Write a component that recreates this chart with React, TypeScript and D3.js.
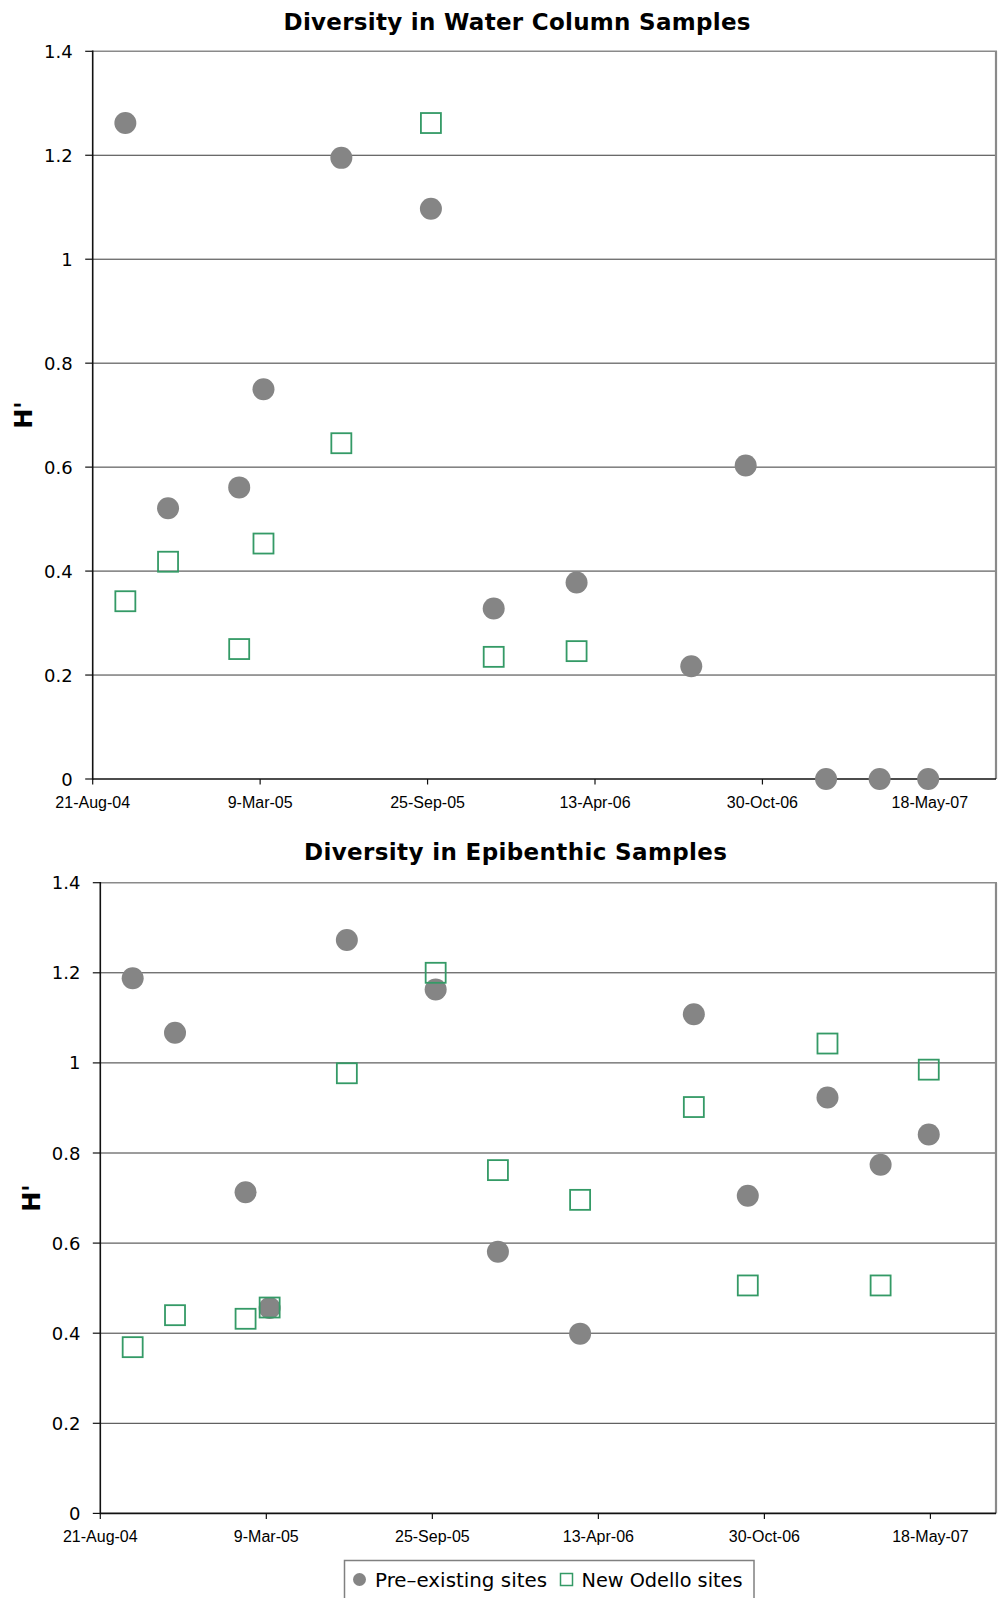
import React from "react";
import * as d3 from "d3";

// Sampling dates shared by both panels
const sampleDates = [
  "2004-09-29", "2004-11-19", "2005-02-12", "2005-03-13", "2005-06-14",
  "2005-09-29", "2005-12-13", "2006-03-22", "2006-08-06", "2006-10-10",
  "2007-01-14", "2007-03-19", "2007-05-16",
];

// Shannon diversity (H') per sampling date
const waterPre = [1.262, 0.521, 0.561, 0.750, 1.195, 1.097, 0.328, 0.378, 0.217, 0.603, 0, 0, 0];
const waterNew = [0.342, 0.418, 0.250, 0.453, 0.646, 1.262, 0.235, 0.246, null, null, null, null, null];
const epiPre = [1.188, 1.067, 0.713, 0.456, 1.273, 1.163, 0.581, 0.399, 1.108, 0.705, 0.923, 0.774, 0.841];
const epiNew = [0.369, 0.440, 0.432, 0.457, 0.977, 1.200, 0.762, 0.696, 0.902, 0.506, 1.043, 0.506, 0.985];

const seriesNames = ["Pre\u2013existing sites", "New Odello sites"];
const panelTitles = ["Diversity in Water Column Samples", "Diversity in Epibenthic Samples"];
const yAxisTitle = "H'";

const xDomainDates = ["2004-08-21", "2007-08-05"];
const xTickDates = ["2004-08-21", "2005-03-09", "2005-09-25", "2006-04-13", "2006-10-30", "2007-05-18"];
const xTickLabels = ["21-Aug-04", "9-Mar-05", "25-Sep-05", "13-Apr-06", "30-Oct-06", "18-May-07"];
const yTicks = [0, 0.2, 0.4, 0.6, 0.8, 1, 1.2, 1.4];
const yTickLabels = ["0", "0.2", "0.4", "0.6", "0.8", "1", "1.2", "1.4"];

const parse = d3.utcParse("%Y-%m-%d");

const GREY = "#858585";
const GREEN = "#349a66";
const NUM_FONT = "'DejaVu Sans', Verdana, sans-serif";
const DATE_FONT = "'Liberation Sans', Arial, sans-serif";

type PanelProps = {
  title: string;
  titleX: number;
  titleY: number;
  titleWidth: number;
  left: number;
  right: number;
  top: number;
  bottom: number;
  labelGap: number;
  axisTitleX: number;
  pre: (number | null)[];
  fresh: (number | null)[];
};

function Panel(p: PanelProps) {
  const x = d3
    .scaleUtc()
    .domain(xDomainDates.map((d) => parse(d) as Date))
    .range([p.left, p.right]);
  const y = d3.scaleLinear().domain([0, 1.4]).range([p.bottom, p.top]);
  const dates = sampleDates.map((d) => parse(d) as Date);
  const sq = 20;

  return (
    <g>
      <text
        x={p.titleX}
        y={p.titleY}
        textAnchor="middle"
        fontFamily={NUM_FONT}
        fontWeight="bold"
        fontSize={23}
        textLength={p.titleWidth}
        lengthAdjust="spacing"
        fill="#000"
      >
        {p.title}
      </text>

      {/* horizontal gridlines */}
      {yTicks.slice(1, -1).map((t) => (
        <line key={"g" + t} x1={p.left} x2={p.right} y1={y(t)} y2={y(t)} stroke="#3a3a3a" strokeWidth={1} />
      ))}
      {/* plot frame: top and right in grey */}
      <line x1={p.left} x2={p.right + 1} y1={y(1.4)} y2={y(1.4)} stroke="#8a8a8a" strokeWidth={1.6} />
      <line x1={p.right} x2={p.right} y1={y(1.4)} y2={y(0)} stroke="#8a8a8a" strokeWidth={2.2} />

      {/* y axis */}
      <line x1={p.left} x2={p.left} y1={y(1.4) - 0.8} y2={y(0) + 0.8} stroke="#111" strokeWidth={1.6} />
      {yTicks.map((t, i) => (
        <g key={"y" + t}>
          <line x1={p.left - 7.5} x2={p.left} y1={y(t)} y2={y(t)} stroke="#111" strokeWidth={1.2} />
          <text
            x={p.left - 7.5 - p.labelGap}
            y={y(t) + 6.5}
            textAnchor="end"
            fontFamily={NUM_FONT}
            fontSize={18}
            fill="#000"
          >
            {yTickLabels[i]}
          </text>
        </g>
      ))}

      {/* x axis */}
      <line x1={p.left} x2={p.right} y1={y(0)} y2={y(0)} stroke="#111" strokeWidth={1.6} />
      {xTickDates.map((d, i) => {
        const xx = x(parse(d) as Date);
        return (
          <g key={"x" + d}>
            <line x1={xx} x2={xx} y1={y(0)} y2={y(0) + 5.5} stroke="#111" strokeWidth={1.2} />
            <text
              x={xx}
              y={y(0) + 29}
              textAnchor="middle"
              fontFamily={DATE_FONT}
              fontSize={16}
              fill="#000"
            >
              {xTickLabels[i]}
            </text>
          </g>
        );
      })}

      <text
        transform={`translate(${p.axisTitleX},${(p.top + p.bottom) / 2}) rotate(-90)`}
        textAnchor="middle"
        fontFamily={NUM_FONT}
        fontWeight="bold"
        fontSize={24}
        fill="#000"
      >
        {yAxisTitle}
      </text>

      {/* pre-existing sites */}
      {p.pre.map((v, i) =>
        v == null ? null : <circle key={"c" + i} cx={x(dates[i])} cy={y(v)} r={11} fill={GREY} />
      )}
      {/* new Odello sites */}
      {p.fresh.map((v, i) =>
        v == null ? null : (
          <rect
            key={"s" + i}
            x={x(dates[i]) - sq / 2}
            y={y(v) - sq / 2}
            width={sq}
            height={sq}
            fill="none"
            stroke={GREEN}
            strokeWidth={1.8}
          />
        )
      )}
    </g>
  );
}

export default function App() {
  return (
    <svg
      width={1001}
      height={1598}
      viewBox="0 0 1001 1598"
      style={{ position: "absolute", left: 0, top: 0, display: "block", background: "#fff" }}
    >
      <rect x={0} y={0} width={1001} height={1598} fill="#fff" />
      <Panel
        title={panelTitles[0]}
        titleX={517}
        titleY={29.5}
        titleWidth={467}
        left={92.7}
        right={996}
        top={51.3}
        bottom={779}
        labelGap={12.6}
        axisTitleX={32}
        pre={waterPre}
        fresh={waterNew}
      />
      <Panel
        title={panelTitles[1]}
        titleX={515.5}
        titleY={860}
        titleWidth={423}
        left={100.3}
        right={996}
        top={882.7}
        bottom={1513.4}
        labelGap={12.3}
        axisTitleX={39.5}
        pre={epiPre}
        fresh={epiNew}
      />

      {/* legend */}
      <g>
        <rect x={344.5} y={1560.5} width={409.5} height={50} fill="#fff" stroke="#808080" strokeWidth={1.5} />
        <circle cx={359.5} cy={1579.5} r={6.5} fill={GREY} />
        <text
          x={375}
          y={1586.5}
          fontFamily={NUM_FONT}
          fontSize={19.5}
          textLength={172}
          lengthAdjust="spacingAndGlyphs"
          fill="#000"
        >
          {seriesNames[0]}
        </text>
        <rect x={560.5} y={1573.5} width={12} height={12} fill="none" stroke={GREEN} strokeWidth={1.5} />
        <text
          x={581.5}
          y={1586.5}
          fontFamily={NUM_FONT}
          fontSize={19.5}
          textLength={161}
          lengthAdjust="spacingAndGlyphs"
          fill="#000"
        >
          {seriesNames[1]}
        </text>
      </g>
    </svg>
  );
}
